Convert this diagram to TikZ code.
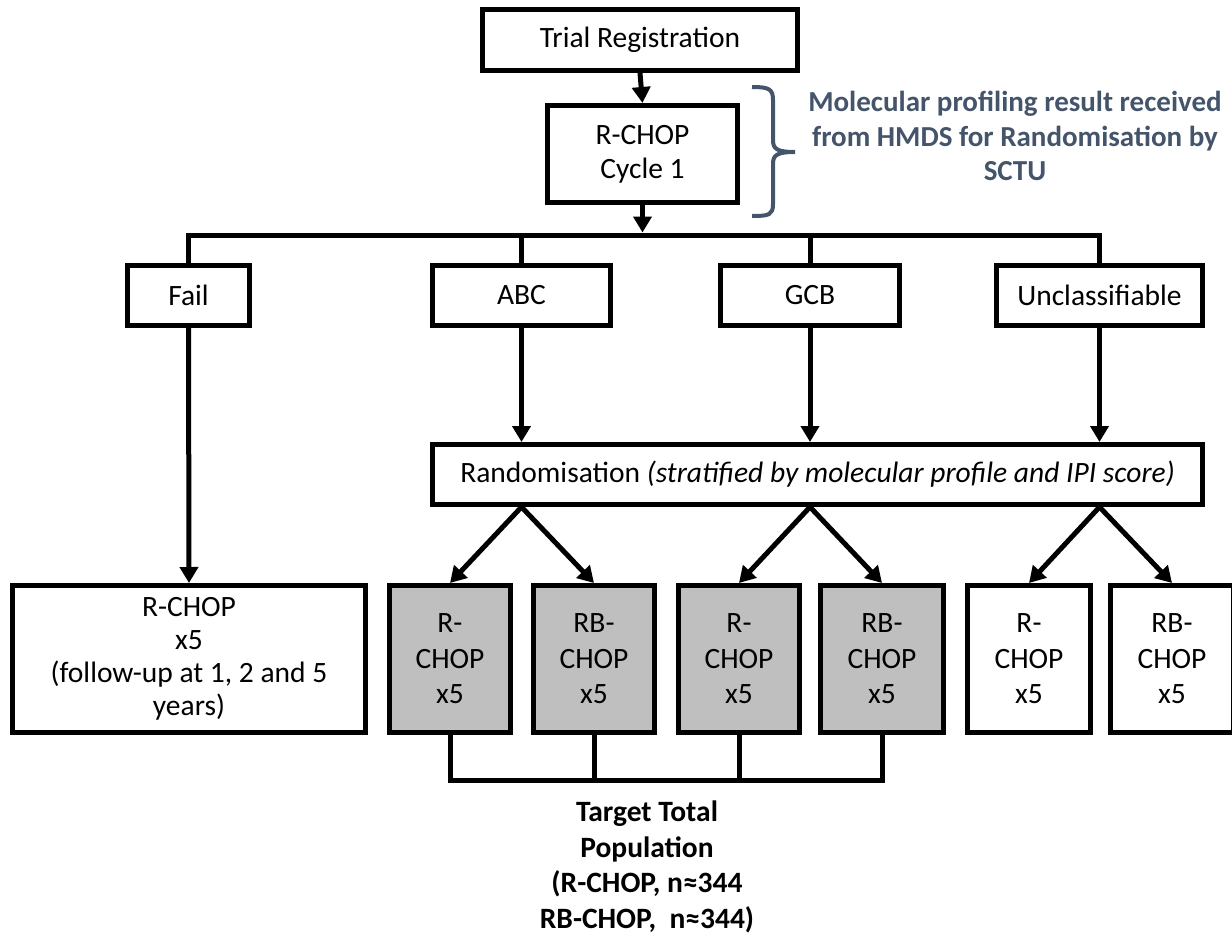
\documentclass[tikz,border=0pt]{standalone}
\usepackage{fontspec}
\setmainfont{Carlito}
\usetikzlibrary{arrows.meta}
\definecolor{slate}{HTML}{44546A}
\definecolor{boxgray}{HTML}{BFBFBF}
\begin{document}
\begin{tikzpicture}[x=1pt,y=-1pt,
  box/.style={draw=black,line width=5pt,fill=white,inner sep=0pt,align=center,
    font=\fontsize{29.5}{34}\selectfont},
  gbox/.style={box,fill=boxgray},
  conn/.style={line width=5pt,draw=black},
  arr/.style={conn,-{Triangle[width=18pt,length=16pt]}},
]
\useasboundingbox (0,0) rectangle (1232,937);

% top
\node[box,minimum width=315pt,minimum height=61pt] (trial) at (640,40) {Trial Registration};
\node[box,minimum width=190pt,minimum height=97pt] (cyc) at (642.5,154) {R-CHOP\\Cycle 1};

% brace
\draw[slate,line width=4pt,line cap=butt]
  (752,87) .. controls (769,87) and (773,89) .. (773,100) -- (773,140)
  .. controls (773,149) and (777,152) .. (795,152)
  .. controls (777,152) and (773,155) .. (773,164) -- (773,204)
  .. controls (773,215) and (769,216) .. (752,216);
\node[text=slate,font=\bfseries\fontsize{29}{34.5}\selectfont,align=center] (mol) at (1015,136)
  {Molecular profiling result received\\from HMDS for Randomisation by\\SCTU};

% classification boxes
\node[box,minimum width=122pt,minimum height=60pt] (fail) at (188.5,295.5) {Fail};
\node[box,minimum width=178pt,minimum height=60pt] (abc) at (521.5,295.5) {ABC};
\node[box,minimum width=179pt,minimum height=60pt] (gcb) at (810,295.5) {GCB};
\node[box,minimum width=206pt,minimum height=60pt] (uncl) at (1099.5,295.5) {Unclassifiable};

\coordinate (barL) at (188.5,235);
\coordinate (barR) at (1099.5,235);
\coordinate (barM) at (642.5,235);
\draw[conn,line cap=butt,line join=miter] (fail.north) -- (barL) -- (barR) -- (uncl.north);
\draw[conn] (abc.north) -- (abc.north |- barL);
\draw[conn] (gcb.north) -- (gcb.north |- barL);
\draw[arr] (cyc.south) -- ([yshift=2.5pt]barM);
\draw[arr] (trial.south) -- (cyc.north);

% randomisation
\node[box,minimum width=770pt,minimum height=60pt] (rand) at (817.5,474.5)
  {Randomisation \textit{(stratified by molecular profile and IPI score)}};
\draw[arr] (abc.south) -- (abc.south |- rand.north);
\draw[arr] (gcb.south) -- (gcb.south |- rand.north);
\draw[arr] (uncl.south) -- (uncl.south |- rand.north);

% results
\node[box,minimum width=353pt,minimum height=147pt,font=\fontsize{29.5}{33}\selectfont] (res) at (189,659)
  {R-CHOP\\x5\\(follow-up at 1, 2 and 5\\years)};
\draw[arr] (fail.south) -- (res.north);

\tikzset{arm/.style={minimum width=121pt,minimum height=147pt,font=\fontsize{29.5}{35.5}\selectfont}}
\node[gbox,arm] (g1) at (450,659) {R-\\CHOP\\x5};
\node[gbox,arm] (g2) at (594,659) {RB-\\CHOP\\x5};
\node[gbox,arm] (g3) at (739,659) {R-\\CHOP\\x5};
\node[gbox,arm,minimum width=123pt] (g4) at (882,659) {RB-\\CHOP\\x5};
\node[box,arm,minimum width=123pt] (w5) at (1029,659) {R-\\CHOP\\x5};
\node[box,arm,minimum width=123pt] (w6) at (1172,659) {RB-\\CHOP\\x5};

\coordinate (fa) at (abc.south |- rand.south);
\coordinate (fg) at (gcb.south |- rand.south);
\coordinate (fu) at (uncl.south |- rand.south);
\draw[arr] (fa) -- (g1.north);
\draw[arr] (fa) -- (g2.north);
\draw[arr] (fg) -- (g3.north);
\draw[arr] (fg) -- (g4.north);
\draw[arr] (fu) -- (w5.north);
\draw[arr] (fu) -- (w6.north);

% bottom bracket
\coordinate (b1) at (450,780);
\coordinate (b4) at (882,780);
\draw[conn,line join=miter] (g1.south) -- (b1) -- (b4) -- (g4.south);
\draw[conn] (g2.south) -- (g2.south |- b1);
\draw[conn] (g3.south) -- (g3.south |- b1);

\node[font=\bfseries\fontsize{29.5}{35.5}\selectfont,align=center] (target) at (647,867)
  {Target Total\\Population\\(R-CHOP, n≈344\\RB-CHOP,\ \ n≈344)};
\end{tikzpicture}
\end{document}
